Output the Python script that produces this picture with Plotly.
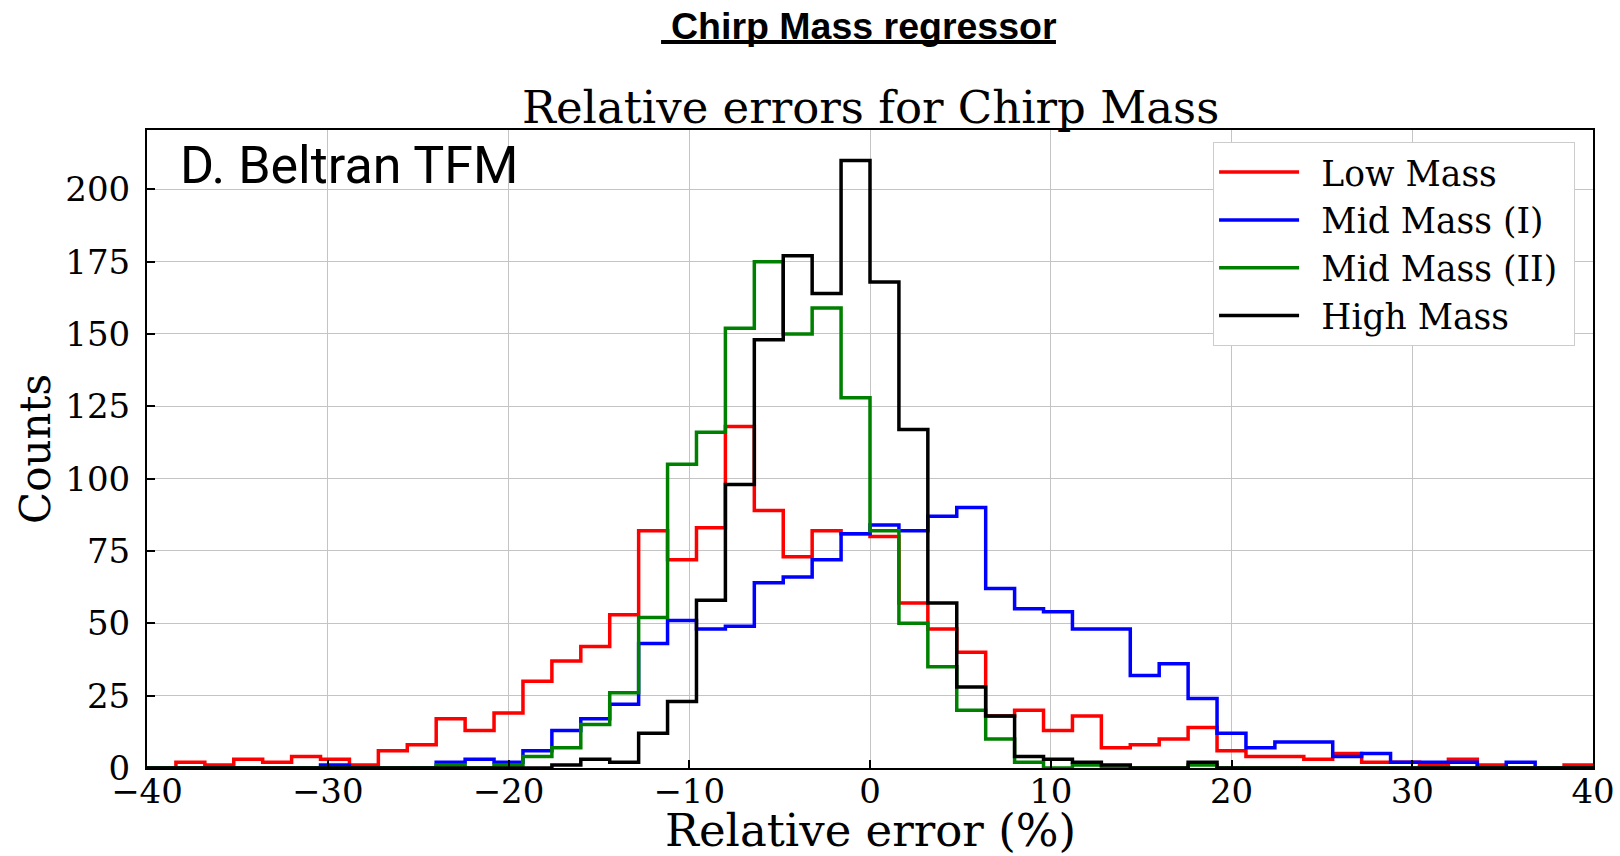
import numpy as np
import plotly.graph_objects as go

# Histogram binning: 50 equal-width bins over the plotted error range
BIN_LO, BIN_HI, N_BINS = -40.0, 40.0, 50

series_names = ["Low Mass", "Mid Mass (I)", "Mid Mass (II)", "High Mass"]
series_colors = ["#ff0000", "#0000ff", "#008000", "#000000"]

# Counts per bin (left to right) for each mass group
low_mass = [0, 2, 1, 3, 2, 4, 3, 1, 6, 8,
            17, 13, 19, 30, 37, 42, 53, 82, 72, 83,
            118, 89, 73, 82, 81, 80, 57, 48, 40, 18,
            20, 13, 18, 7, 8, 10, 14, 6, 4, 4,
            3, 5, 2, 2, 1, 3, 1, 0, 0, 1]
mid_mass_1 = [0, 0, 0, 0, 0, 0, 1, 0, 0, 0,
              2, 3, 2, 6, 13, 17, 22, 43, 51, 48,
              49, 64, 66, 72, 81, 84, 82, 87, 90, 62,
              55, 54, 48, 48, 32, 36, 24, 12, 7, 9,
              9, 4, 5, 2, 2, 2, 0, 2, 0, 0]
mid_mass_2 = [0, 0, 0, 0, 0, 0, 0, 0, 0, 0,
              1, 0, 1, 4, 7, 15, 26, 52, 105, 116,
              152, 175, 150, 159, 128, 82, 50, 35, 20, 10,
              2, 0, 1, 0, 0, 0, 1, 0, 0, 0,
              0, 0, 0, 0, 0, 0, 0, 0, 0, 0]
high_mass = [0, 0, 0, 0, 0, 0, 0, 0, 0, 0,
             0, 0, 0, 0, 1, 3, 2, 12, 23, 58,
             98, 148, 177, 164, 210, 168, 117, 57, 28, 18,
             4, 3, 2, 1, 0, 0, 2, 0, 0, 0,
             0, 0, 0, 0, 0, 0, 0, 0, 0, 0]

x_ticks = [-40, -30, -20, -10, 0, 10, 20, 30, 40]
y_ticks = [0, 25, 50, 75, 100, 125, 150, 175, 200]

edges = np.linspace(BIN_LO, BIN_HI, N_BINS + 1)


def step_outline(counts):
    """Outline of an unfilled histogram: up from the baseline, across each bin, back down."""
    xs = [edges[0]] + list(edges[:-1]) + [edges[-1]]
    ys = [0] + list(counts) + [0]
    return xs, ys


fig = go.Figure()
for name, color, counts in zip(series_names, series_colors,
                               [low_mass, mid_mass_1, mid_mass_2, high_mass]):
    xs, ys = step_outline(counts)
    fig.add_trace(go.Scatter(
        # en space before and a narrower space after widen the legend entry padding
        x=xs, y=ys, name="\u2002" + name + "\u2004", mode="lines",
        line=dict(color=color, width=3.5, shape="hv"),
        hoverinfo="skip",
    ))

serif = "DejaVu Serif"
grid_color = "#c4c4c4"

fig.update_layout(
    width=1620, height=856,
    margin=dict(l=147, r=27, t=130, b=88, autoexpand=False),
    paper_bgcolor="white", plot_bgcolor="white",
    font=dict(family=serif, color="black"),
    showlegend=True,
    legend=dict(
        x=0.9876, y=0.981, xanchor="right", yanchor="top",
        bgcolor="white", bordercolor="#cccccc", borderwidth=1,
        font=dict(family=serif, size=34.5, color="black"),
        itemwidth=80, tracegroupgap=0,
    ),
    xaxis=dict(
        range=[-40, 40], tickvals=x_ticks, ticks="inside", ticklen=8,
        tickwidth=1.5, tickcolor="black", automargin=False,
        tickfont=dict(family=serif, size=34, color="black"),
        ticklabelstandoff=-8,
        showgrid=True, gridcolor=grid_color, gridwidth=1.3,
        showline=True, linecolor="black", linewidth=2, mirror=True,
        zeroline=False,
    ),
    yaxis=dict(
        range=[0, 220.5], tickvals=y_ticks, ticks="inside", ticklen=8,
        tickwidth=1.5, tickcolor="black", automargin=False,
        tickfont=dict(family=serif, size=34, color="black"),
        showgrid=True, gridcolor=grid_color, gridwidth=1.3,
        showline=True, linecolor="black", linewidth=2, mirror=True,
        zeroline=False, ticklabelstandoff=8,
        title=dict(text="Counts", font=dict(family=serif, size=42),
                   standoff=2),
    ),
    annotations=[
        dict(text="Relative errors for Chirp Mass", xref="paper", yref="paper",
             x=0.5, y=1.0345, xanchor="center", yanchor="middle", showarrow=False,
             font=dict(family=serif, size=45, color="black")),
        # x-axis label, placed freely below the tick labels
        dict(text="Relative error (%)", xref="paper", yref="paper",
             x=0.5, y=-0.0985, xanchor="center", yanchor="middle", showarrow=False,
             font=dict(family=serif, size=45, color="black")),
        dict(text="<b>Chirp Mass regressor</b>", xref="paper", yref="paper",
             x=0.4959, y=1.1630, xanchor="center", yanchor="middle", showarrow=False,
             font=dict(family="Liberation Sans", size=37.5, color="black")),
        dict(text="D. Beltran TFM", xref="paper", yref="paper",
             x=0.0215, y=0.944, xanchor="left", yanchor="middle", showarrow=False,
             font=dict(family="Roboto", size=52, color="black")),
    ],
    shapes=[
        # underline of the heading
        dict(type="line", xref="paper", yref="paper",
             x0=0.3555, x1=0.6286, y0=1.1380, y1=1.1380,
             line=dict(color="black", width=4)),
    ],
)

fig.write_html("out.html")
